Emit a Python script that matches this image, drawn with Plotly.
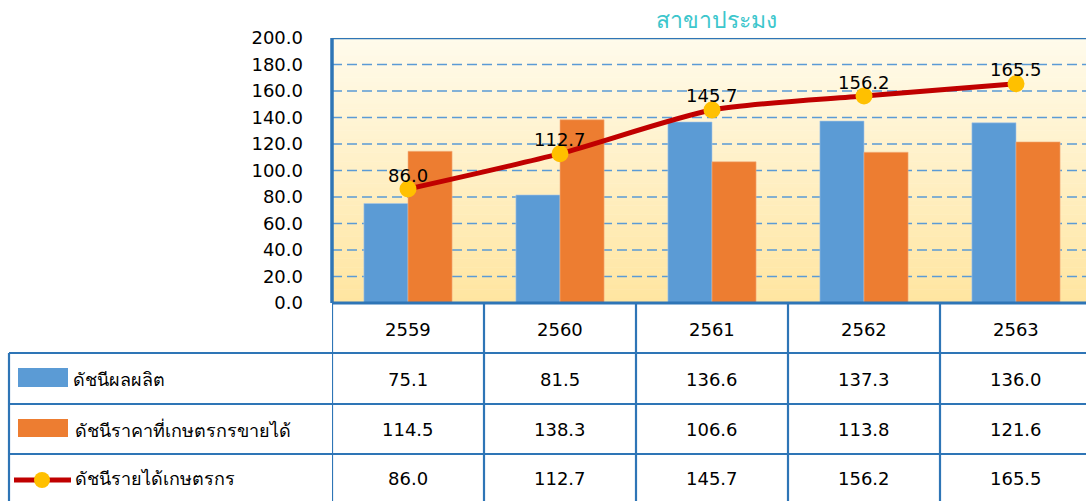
import plotly.graph_objects as go

years = ["2559", "2560", "2561", "2562", "2563"]
production_index = [75.1, 81.5, 136.6, 137.3, 136.0]
price_index = [114.5, 138.3, 106.6, 113.8, 121.6]
income_index = [86.0, 112.7, 145.7, 156.2, 165.5]
series_names = ["ดัชนีผลผลิต", "ดัชนีราคาที่เกษตรกรขายได้", "ดัชนีรายได้เกษตรกร"]
title_text = "สาขาประมง"
y_ticks = [0, 20, 40, 60, 80, 100, 120, 140, 160, 180, 200]

W, H = 1086, 501
L, R, T, B = 332, 0, 38, 198
PW = W - L - R
PH = H - T - B

BLUE = "#5B9BD5"
ORANGE = "#ED7D31"
RED = "#C00000"
YELLOW = "#FFC000"
GRID = "#5B9BD5"
FRAME = "#2E75B6"
FONT = "Tahoma, DejaVu Sans, Noto Sans, sans-serif"


def px(xp):
    return (xp - L) / PW


def py(yp):
    return (H - B - yp) / PH


n = len(years)
xidx = list(range(n))
cat_px = 152.0
xmax = -0.5 + PW / cat_px

fig = go.Figure()
fig.add_trace(go.Bar(x=xidx, y=production_index, name=series_names[0],
                     marker=dict(color=BLUE, line=dict(color="#A9C8E8", width=0.6))))
fig.add_trace(go.Bar(x=xidx, y=price_index, name=series_names[1],
                     marker=dict(color=ORANGE, line=dict(color="#F4B183", width=0.6))))
fig.add_trace(go.Scatter(x=xidx, y=income_index, name=series_names[2], mode="lines+markers",
                         line=dict(color=RED, width=5, shape="spline", smoothing=0.7),
                         marker=dict(color=YELLOW, size=17, line=dict(width=0))))

shapes = []
# gradient background
top_c = (255, 251, 236)
bot_c = (255, 229, 160)
nb = 60
for i in range(nb):
    t = (i + 0.5) / nb
    c = tuple(int(round(top_c[k] + (bot_c[k] - top_c[k]) * t)) for k in range(3))
    shapes.append(dict(type="rect", xref="paper", yref="paper", x0=0, x1=1,
                       y0=1 - (i + 1) / nb, y1=1 - i / nb + 0.002, layer="below",
                       line=dict(width=0), fillcolor="rgb(%d,%d,%d)" % c))
# dashed grid lines
for v in y_ticks[1:-1]:
    shapes.append(dict(type="line", xref="paper", yref="y", x0=0, x1=1, y0=v, y1=v,
                       layer="below", line=dict(color=GRID, width=1.6, dash="10px,5px")))
# top frame
shapes.append(dict(type="line", xref="paper", yref="y", x0=0, x1=1, y0=200, y1=200,
                   line=dict(color=FRAME, width=2.5)))
# left axis
shapes.append(dict(type="line", xref="paper", yref="paper", x0=0, x1=0, y0=py(303), y1=1,
                   line=dict(color=FRAME, width=3.5)))

# table
row_lines = [303, 353, 404, 454]
table_bottom = 520
for k, yl in enumerate(row_lines):
    x0 = 0 if k == 0 else px(9)
    shapes.append(dict(type="line", xref="paper", yref="paper", x0=x0, x1=1.02,
                       y0=py(yl), y1=py(yl),
                       line=dict(color=FRAME, width=3 if k == 0 else 2.2)))
shapes.append(dict(type="line", xref="paper", yref="paper", x0=px(9), x1=px(9),
                   y0=py(353), y1=py(table_bottom), line=dict(color=FRAME, width=2.2)))
for i in range(n + 1):
    shapes.append(dict(type="line", xref="x", yref="paper", x0=i - 0.5, x1=i - 0.5,
                       y0=py(303), y1=py(table_bottom), line=dict(color=FRAME, width=2.2)))

# legend keys
shapes.append(dict(type="rect", xref="paper", yref="paper", x0=px(18), x1=px(68),
                   y0=py(387), y1=py(368), line=dict(width=0), fillcolor=BLUE))
shapes.append(dict(type="rect", xref="paper", yref="paper", x0=px(18), x1=px(68),
                   y0=py(437), y1=py(419), line=dict(width=0), fillcolor=ORANGE))
shapes.append(dict(type="line", xref="paper", yref="paper", x0=px(14), x1=px(71),
                   y0=py(480), y1=py(480), line=dict(color=RED, width=5)))
shapes.append(dict(type="circle", xref="paper", yref="paper", x0=px(34), x1=px(50),
                   y0=py(488), y1=py(472), line=dict(width=0), fillcolor=YELLOW))

annotations = []
# title
annotations.append(dict(text=title_text, xref="paper", yref="paper", x=px(716), y=py(20),
                        showarrow=False, font=dict(size=23, color="#3CC6CC", family=FONT),
                        xanchor="center", yanchor="middle"))
# data labels
for i, v in enumerate(income_index):
    annotations.append(dict(text=f"{v:.1f}", x=i, y=v, xref="x", yref="y", showarrow=False,
                            yshift=14, font=dict(size=18, color="black", family=FONT),
                            xanchor="center", yanchor="middle"))
# table headers and values
row_centers = [329, 379, 429, 479]
for i, yr in enumerate(years):
    annotations.append(dict(text=yr, x=i, y=py(row_centers[0]), xref="x", yref="paper",
                            xanchor="center", yanchor="middle", showarrow=False,
                            font=dict(size=18, color="black", family=FONT)))
for r, vals in enumerate([production_index, price_index, income_index]):
    for i, v in enumerate(vals):
        annotations.append(dict(text=f"{v:.1f}", x=i, y=py(row_centers[r + 1]), xref="x",
                                yref="paper", xanchor="center", yanchor="middle",
                                showarrow=False,
                                font=dict(size=18, color="black", family=FONT)))
label_x = [71, 73, 73]
for r, name in enumerate(series_names):
    annotations.append(dict(text=name, x=px(label_x[r]), y=py(row_centers[r + 1]),
                            xref="paper", yref="paper", xanchor="left", yanchor="middle",
                            showarrow=False,
                            font=dict(size=18, color="black", family=FONT)))

fig.update_layout(
    width=W, height=H,
    margin=dict(l=L, r=R, t=T, b=B),
    paper_bgcolor="white", plot_bgcolor="rgba(0,0,0,0)",
    barmode="group", bargap=0.42, bargroupgap=0,
    showlegend=False,
    shapes=shapes, annotations=annotations,
    xaxis=dict(range=[-0.5, xmax], showticklabels=False, showgrid=False, zeroline=False,
               showline=False, ticks=""),
    yaxis=dict(range=[0, 200], tickvals=y_ticks, ticktext=[f"{v:.1f}" for v in y_ticks],
               showgrid=False, zeroline=False, showline=False, ticks="",
               ticklabelstandoff=28,
               tickfont=dict(size=18, color="black", family=FONT)),
)

fig.write_html("out.html", config={"displayModeBar": False},
               post_script="document.body.style.margin='0';document.body.style.overflow='hidden';")
